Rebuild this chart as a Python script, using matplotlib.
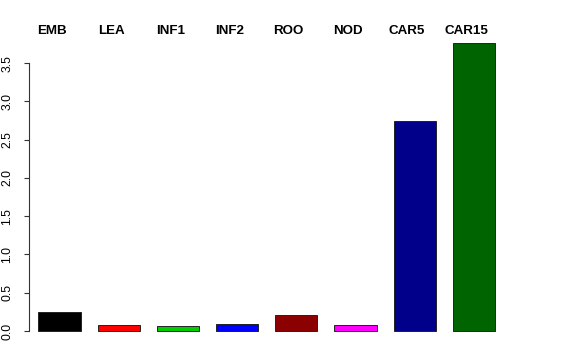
import matplotlib
matplotlib.use("Agg")
import matplotlib.pyplot as plt
import matplotlib.transforms as mtransforms

plt.rcParams['font.family'] = ['Liberation Sans', 'DejaVu Sans']

# tissue samples and values
tissues = ["EMB", "LEA", "INF1", "INF2", "ROO", "NOD", "CAR5", "CAR15"]
values = [0.25, 0.073, 0.068, 0.095, 0.21, 0.073, 2.745, 3.764]
colours = ["black", "red", "#00CD00", "blue", "#8B0000", "magenta", "#00008B", "#006400"]
yticks = [0.0, 0.5, 1.0, 1.5, 2.0, 2.5, 3.0, 3.5]

W, H = 576, 360
fig = plt.figure(figsize=(W / 100, H / 100), dpi=100)
# plot region in pixels: left 29, right 503.5, top 31.5, bottom 342.5
ax = fig.add_axes([29 / W, (H - 342.5) / H, 474.5 / W, 311 / H])

x = list(range(len(tissues)))
ax.bar(x, values, width=0.715, color=colours, edgecolor="#222222", linewidth=0.7)

top = max(values)
ax.set_xlim(-0.515, 7.5)
ax.set_ylim(-0.04 * top, top * 1.04)

for s in ["top", "right", "bottom"]:
    ax.spines[s].set_visible(False)
ax.spines["left"].set_bounds(yticks[0], yticks[-1])
ax.spines["left"].set_color("#333333")
ax.spines["left"].set_linewidth(0.8)

ax.set_xticks([])
ax.set_yticks(yticks)
ax.set_yticklabels(["%.1f" % t for t in yticks], rotation=90, va="center")
ax.tick_params(axis="y", length=3.6, width=0.8, color="#333333", pad=7.5,
               labelsize=8.8)

# sample names above the bars
trans = mtransforms.blended_transform_factory(ax.transData, ax.transAxes)
for xi, name in zip(x, tissues):
    ax.text(xi - 0.13, 0.992, name, transform=trans, ha="center", va="baseline",
            fontsize=9.6, fontweight="bold", clip_on=False)

fig.savefig("out.png", dpi=100)
